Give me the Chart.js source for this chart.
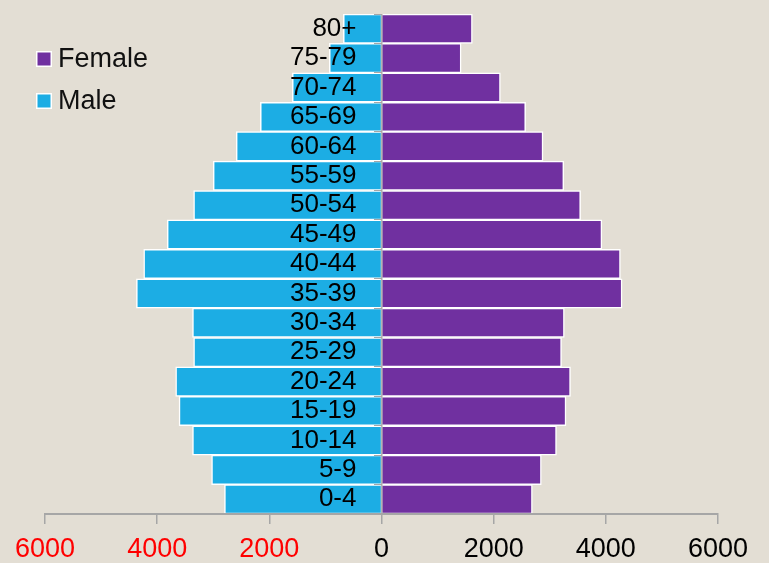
<!DOCTYPE html>
<html>
<head>
<meta charset="utf-8">
<script src="https://cdn.jsdelivr.net/npm/chart.js@4/dist/chart.umd.min.js"></script>
<style>
  html, body { margin: 0; padding: 0; background: #E3DED4; }
  #wrap { width: 769px; height: 563px; }
</style>
</head>
<body>
<div id="wrap"><canvas id="pyramid" width="769" height="563"></canvas></div>
<script>
// Age groups, youngest first (drawn bottom to top)
const ageGroups = ["0-4", "5-9", "10-14", "15-19", "20-24", "25-29", "30-34", "35-39",
  "40-44", "45-49", "50-54", "55-59", "60-64", "65-69", "70-74", "75-79", "80+"];

// Population counts per age group
const female = [2690, 2850, 3120, 3290, 3370, 3210, 3260, 4290,
  4260, 3930, 3550, 3250, 2880, 2570, 2120, 1420, 1620];
const male = [2800, 3030, 3370, 3610, 3670, 3350, 3370, 4370,
  4240, 3820, 3350, 3000, 2590, 2160, 1590, 930, 680];

// Axis ticks for the population scale
const axisTicks = [-6000, -4000, -2000, 0, 2000, 4000, 6000];

const seriesNames = ["Female", "Male"];
const FEMALE_COLOR = "#7030A0";
const MALE_COLOR = "#1CADE4";
const AXIS_GRAY = "#A6A6A6";

// Age labels sit just left of the centre line, over the male bars
const LABEL_ANCHOR = -446;

// Legend drawn at the upper-left, over the empty side of the plot
const cornerLegend = {
  id: "cornerLegend",
  afterDraw(chart) {
    const ctx = chart.ctx;
    ctx.save();
    ctx.font = "27px 'Liberation Sans', Arial, sans-serif";
    ctx.textBaseline = "middle";
    ctx.textAlign = "left";
    chart.data.datasets.forEach((ds, i) => {
      const cy = 59 + i * 42;
      ctx.fillStyle = "#FFFFFF";
      ctx.fillRect(36, cy - 8, 16, 16);
      ctx.fillStyle = ds.backgroundColor;
      ctx.fillRect(37.5, cy - 6.5, 13, 13);
      ctx.fillStyle = "#111111";
      ctx.fillText(ds.label, 58, cy + 1);
    });
    ctx.restore();
  }
};

new Chart(document.getElementById("pyramid"), {
  type: "bar",
  data: {
    labels: ageGroups,
    datasets: [
      {
        label: seriesNames[0],
        data: female,
        backgroundColor: FEMALE_COLOR,
        borderColor: "#FFFFFF",
        borderWidth: 1.5
      },
      {
        label: seriesNames[1],
        data: male.map(v => -v),
        backgroundColor: MALE_COLOR,
        borderColor: "#FFFFFF",
        borderWidth: 1.5
      }
    ]
  },
  options: {
    indexAxis: "y",
    responsive: false,
    animation: false,
    barPercentage: 1,
    categoryPercentage: 1,
    layout: { padding: { left: 45, right: 51, top: 14, bottom: -13 } },
    plugins: {
      legend: { display: false },
      tooltip: { enabled: false }
    },
    scales: {
      x: {
        type: "linear",
        min: -6000,
        max: 6000,
        stacked: true,
        afterBuildTicks(axis) {
          axis.ticks = axisTicks.map(v => ({ value: v }));
        },
        ticks: {
          callback: v => String(Math.abs(v)),
          color: c => (c.tick && c.tick.value < 0 ? "#FF0000" : "#000000"),
          font: { family: "'Liberation Sans Narrow', 'Liberation Sans', sans-serif", size: 27, lineHeight: "26px" },
          padding: 13,
          maxRotation: 0
        },
        grid: {
          z: 1,
          drawOnChartArea: true,
          drawTicks: true,
          tickLength: 10,
          color: c => (c.tick && c.tick.value === 0 ? "#B4B4B4" : "rgba(0,0,0,0)"),
          tickColor: AXIS_GRAY,
          lineWidth: 1.5
        },
        border: { display: true, z: 1, color: AXIS_GRAY, width: 2 }
      },
      y: {
        type: "category",
        reverse: true,
        stacked: true,
        position: { x: LABEL_ANCHOR },
        ticks: {
          z: 2,
          autoSkip: false,
          color: "#000000",
          font: { family: "'Liberation Sans', Arial, sans-serif", size: 26, lineHeight: 1 },
          padding: 0
        },
        grid: { display: false },
        border: { display: false }
      },
      yMarks: {
        type: "category",
        labels: ageGroups,
        reverse: true,
        offset: true,
        position: { x: 0 },
        ticks: { display: false, autoSkip: false, padding: 0 },
        grid: {
          z: 1,
          offset: true,
          drawOnChartArea: false,
          drawTicks: true,
          tickLength: 8,
          color: AXIS_GRAY,
          lineWidth: 1
        },
        border: { display: false }
      }
    }
  },
  plugins: [cornerLegend]
});
</script>
</body>
</html>
